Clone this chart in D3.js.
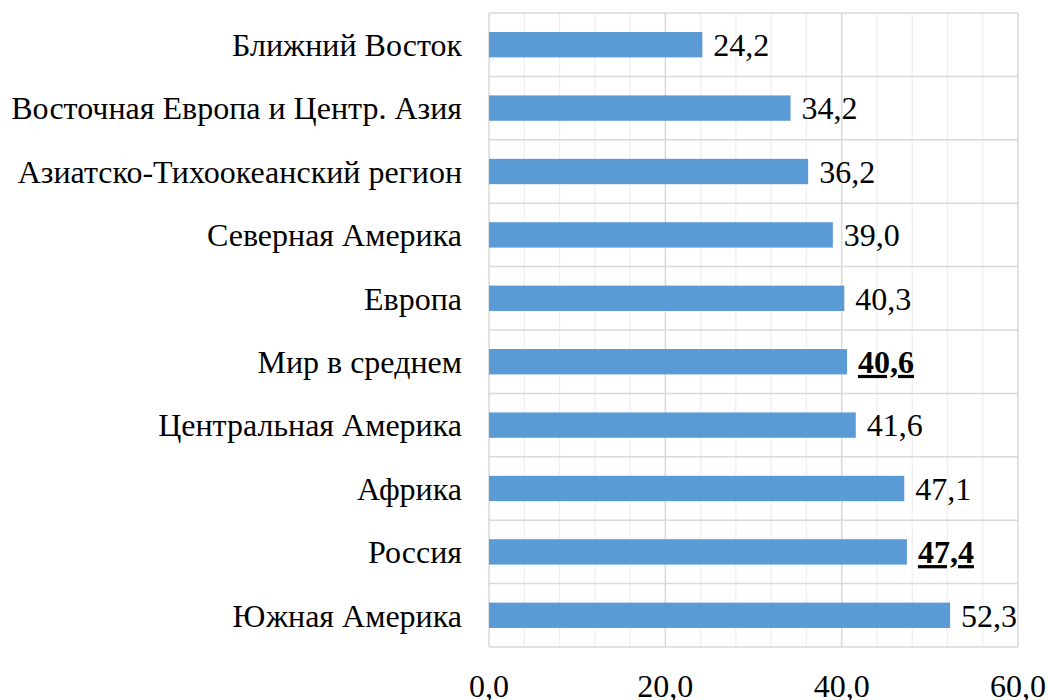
<!DOCTYPE html>
<html>
<head>
<meta charset="utf-8">
<script src="https://cdn.jsdelivr.net/npm/d3@7"></script>
</head>
<body style="margin:0; background:#fff">
<script>
const regions = ['Ближний Восток', 'Восточная Европа и Центр. Азия', 'Азиатско-Тихоокеанский регион',
  'Северная Америка', 'Европа', 'Мир в среднем', 'Центральная Америка', 'Африка', 'Россия', 'Южная Америка']
const values = [24.2, 34.2, 36.2, 39.0, 40.3, 40.6, 41.6, 47.1, 47.4, 52.3]
const highlighted = ['Мир в среднем', 'Россия']
const xTicks = [0, 20, 40, 60]

const width = 1048, height = 700
const plotLeft = 489, plotRight = 1018, plotTop = 13, plotBottom = 647
const font = 'Liberation Serif'

const fmt = v => d3.format('.1f')(v).replace('.', ',')

const svg = d3.select('body').append('svg')
    .attr('width', width)
    .attr('height', height)
    .attr('font-family', font)

const x = d3.scaleLinear().domain([0, 60]).range([plotLeft, plotRight])
const y = d3.scaleBand().domain(regions).range([plotTop, plotBottom]).paddingInner(0.6).paddingOuter(0.3)
const yb = d3.scaleBand().domain(regions).range([plotTop, plotBottom])

// minor vertical grid
svg.append('g').selectAll('line')
    .data(d3.range(0, 61, 4).filter(v => v % 20 !== 0))
    .enter().append('line')
    .attr('x1', d => x(d)).attr('x2', d => x(d))
    .attr('y1', plotTop).attr('y2', plotBottom)
    .attr('stroke', '#efefef').attr('stroke-width', 1.3)

// horizontal grid at band edges
svg.append('g').selectAll('line')
    .data(regions.map(r => yb(r)).concat([plotBottom]))
    .enter().append('line')
    .attr('x1', plotLeft).attr('x2', plotRight)
    .attr('y1', d => d).attr('y2', d => d)
    .attr('stroke', '#d9d9d9').attr('stroke-width', 1.5)

// major vertical grid
svg.append('g').selectAll('line')
    .data(xTicks)
    .enter().append('line')
    .attr('x1', d => x(d)).attr('x2', d => x(d))
    .attr('y1', plotTop).attr('y2', plotBottom)
    .attr('stroke', '#d9d9d9').attr('stroke-width', 1.5)

// bars
svg.append('g').selectAll('rect')
    .data(regions)
    .enter().append('rect')
    .attr('x', x(0))
    .attr('y', d => y(d))
    .attr('width', (d, i) => x(values[i]) - x(0))
    .attr('height', y.bandwidth())
    .attr('fill', '#5b9bd5')

// value labels
svg.append('g').selectAll('text')
    .data(regions)
    .enter().append('text')
    .attr('x', (d, i) => x(values[i]) + 11)
    .attr('y', d => y(d) + y.bandwidth() / 2)
    .attr('dy', '0.35em')
    .attr('font-family', font)
    .attr('font-size', 32)
    .attr('font-weight', d => highlighted.includes(d) ? 'bold' : 'normal')
    .attr('text-decoration', d => highlighted.includes(d) ? 'underline' : 'none')
    .text((d, i) => fmt(values[i]))

// category labels
svg.append('g').selectAll('text')
    .data(regions)
    .enter().append('text')
    .attr('x', plotLeft - 27)
    .attr('y', d => yb(d) + yb.bandwidth() / 2)
    .attr('dy', '0.35em')
    .attr('text-anchor', 'end')
    .attr('font-family', font)
    .attr('font-size', 32)
    .text(d => d)

// x tick labels
svg.append('g').selectAll('text')
    .data(xTicks)
    .enter().append('text')
    .attr('x', d => x(d))
    .attr('y', 686)
    .attr('dy', '0.35em')
    .attr('text-anchor', 'middle')
    .attr('font-family', font)
    .attr('font-size', 32)
    .text(d => fmt(d))
</script>
</body>
</html>
